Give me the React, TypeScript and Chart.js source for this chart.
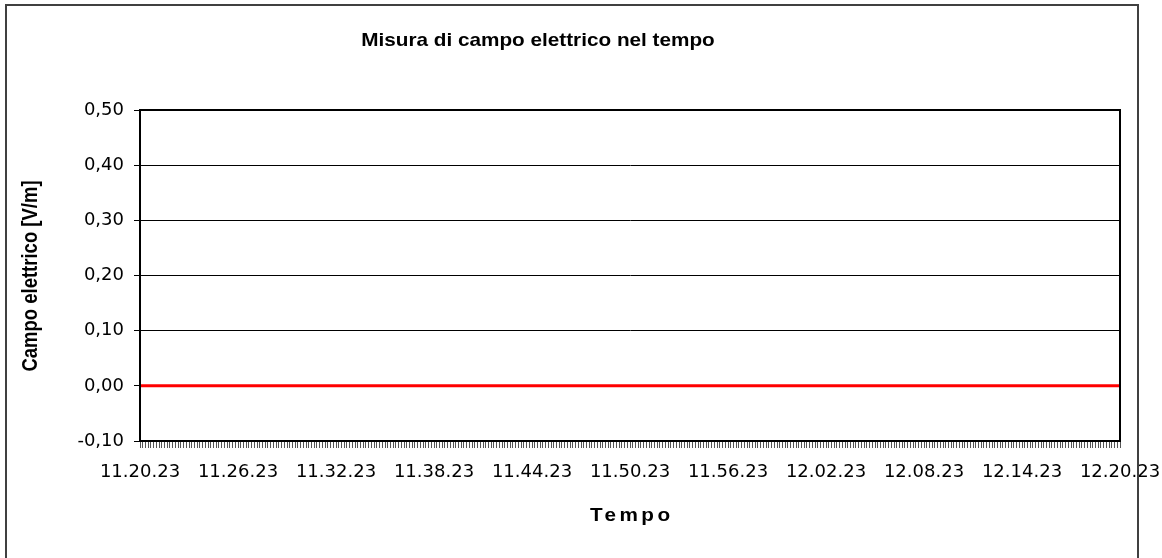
import React, { useEffect, useRef } from 'react';
import { Chart, registerables } from 'chart.js';

Chart.register(...registerables);

const chartTitle = 'Misura di campo elettrico nel tempo';
const xAxisTitle = 'Tempo';
const yAxisTitle = 'Campo elettrico [V/m]';

// Time axis: one sample every 10 s, a label every 6 minutes
const timeTickLabels = [
  '11.20.23', '11.26.23', '11.32.23', '11.38.23', '11.44.23', '11.50.23',
  '11.56.23', '12.02.23', '12.08.23', '12.14.23', '12.20.23',
];
const samplesPerTickLabel = 36;
const startTime = [11, 20, 23];
const sampleIntervalSeconds = 10;

const yMin = -0.1;
const yMax = 0.5;
const yStep = 0.1;

// Electric field readings [V/m] (flat at zero for the whole hour)
const fieldValues: number[] = [
  0, 0, 0, 0, 0, 0, 0, 0, 0, 0, 0, 0, 0, 0, 0, 0, 0, 0, 0, 0, 0, 0, 0, 0, 0, 0, 0, 0, 0, 0, 0, 0, 0, 0, 0, 0,
  0, 0, 0, 0, 0, 0, 0, 0, 0, 0, 0, 0, 0, 0, 0, 0, 0, 0, 0, 0, 0, 0, 0, 0, 0, 0, 0, 0, 0, 0, 0, 0, 0, 0, 0, 0,
  0, 0, 0, 0, 0, 0, 0, 0, 0, 0, 0, 0, 0, 0, 0, 0, 0, 0, 0, 0, 0, 0, 0, 0, 0, 0, 0, 0, 0, 0, 0, 0, 0, 0, 0, 0,
  0, 0, 0, 0, 0, 0, 0, 0, 0, 0, 0, 0, 0, 0, 0, 0, 0, 0, 0, 0, 0, 0, 0, 0, 0, 0, 0, 0, 0, 0, 0, 0, 0, 0, 0, 0,
  0, 0, 0, 0, 0, 0, 0, 0, 0, 0, 0, 0, 0, 0, 0, 0, 0, 0, 0, 0, 0, 0, 0, 0, 0, 0, 0, 0, 0, 0, 0, 0, 0, 0, 0, 0,
  0, 0, 0, 0, 0, 0, 0, 0, 0, 0, 0, 0, 0, 0, 0, 0, 0, 0, 0, 0, 0, 0, 0, 0, 0, 0, 0, 0, 0, 0, 0, 0, 0, 0, 0, 0,
  0, 0, 0, 0, 0, 0, 0, 0, 0, 0, 0, 0, 0, 0, 0, 0, 0, 0, 0, 0, 0, 0, 0, 0, 0, 0, 0, 0, 0, 0, 0, 0, 0, 0, 0, 0,
  0, 0, 0, 0, 0, 0, 0, 0, 0, 0, 0, 0, 0, 0, 0, 0, 0, 0, 0, 0, 0, 0, 0, 0, 0, 0, 0, 0, 0, 0, 0, 0, 0, 0, 0, 0,
  0, 0, 0, 0, 0, 0, 0, 0, 0, 0, 0, 0, 0, 0, 0, 0, 0, 0, 0, 0, 0, 0, 0, 0, 0, 0, 0, 0, 0, 0, 0, 0, 0, 0, 0, 0,
  0, 0, 0, 0, 0, 0, 0, 0, 0, 0, 0, 0, 0, 0, 0, 0, 0, 0, 0, 0, 0, 0, 0, 0, 0, 0, 0, 0, 0, 0, 0, 0, 0, 0, 0, 0,
  0,
];

const pad = (n: number) => (n < 10 ? '0' + n : String(n));
const sampleTimes: string[] = fieldValues.map((_, i) => {
  const t = startTime[0] * 3600 + startTime[1] * 60 + startTime[2] + i * sampleIntervalSeconds;
  return `${pad(Math.floor(t / 3600))}.${pad(Math.floor((t % 3600) / 60))}.${pad(t % 60)}`;
});

const W = 1162;
const H = 558;

function drawStretched(
  ctx: CanvasRenderingContext2D,
  text: string,
  x: number,
  y: number,
  font: string,
  sx: number,
  spacing = 0,
) {
  ctx.save();
  ctx.translate(x, y);
  ctx.scale(sx, 1);
  ctx.font = font;
  (ctx as any).letterSpacing = spacing + 'px';
  ctx.textAlign = 'center';
  ctx.textBaseline = 'alphabetic';
  ctx.fillText(text, spacing / 2, 0);
  ctx.restore();
}

const decorPlugin = {
  id: 'decor',
  afterDraw(chart: any) {
    const ctx: CanvasRenderingContext2D = chart.ctx;
    const a = chart.chartArea;
    ctx.save();
    // plot area frame
    ctx.strokeStyle = '#000';
    ctx.lineWidth = 2;
    ctx.strokeRect(a.left, a.top, a.right - a.left, a.bottom - a.top);
    // outer chart border
    ctx.strokeStyle = '#404040';
    ctx.lineWidth = 2;
    ctx.strokeRect(6, 5, 1132, 700);
    ctx.fillStyle = '#000';
    drawStretched(ctx, chartTitle, 538, 46, 'bold 18.5px "Liberation Sans", Arial, sans-serif', 1.12);
    drawStretched(ctx, xAxisTitle, 630, 521, 'bold 18px "Liberation Sans", Arial, sans-serif', 1.15, 3);
    // y axis title
    ctx.save();
    ctx.translate(31, 276);
    ctx.rotate(-Math.PI / 2);
    ctx.scale(1, 1.15);
    ctx.font = 'bold 18.5px "Liberation Sans", Arial, sans-serif';
    ctx.textAlign = 'center';
    ctx.textBaseline = 'middle';
    ctx.fillText(yAxisTitle, 0, 0);
    ctx.restore();
    ctx.restore();
  },
};

export default function App() {
  const ref = useRef<HTMLCanvasElement | null>(null);

  useEffect(() => {
    if (!ref.current) return;
    const chart = new Chart(ref.current, {
      type: 'line',
      data: {
        labels: sampleTimes,
        datasets: [
          {
            label: 'Campo elettrico',
            data: fieldValues,
            borderColor: '#ff0000',
            backgroundColor: '#ff0000',
            borderWidth: 3,
            pointRadius: 0,
            tension: 0,
          },
        ],
      },
      options: {
        animation: false,
        responsive: false,
        devicePixelRatio: 1,
        layout: { padding: { top: 110, right: 42, left: 0, bottom: 0 } },
        plugins: {
          legend: { display: false },
          title: { display: false },
          tooltip: { enabled: false },
        },
        scales: {
          x: {
            type: 'category',
            offset: false,
            afterFit: (s: any) => {
              s.height = 117;
              s.paddingLeft = 0;
              s.paddingRight = 0;
            },
            grid: {
              display: true,
              drawOnChartArea: false,
              drawTicks: true,
              tickLength: 7,
              color: '#555555',
              lineWidth: 1,
            },
            border: { display: true, color: '#000', width: 2 },
            ticks: {
              autoSkip: false,
              maxRotation: 0,
              minRotation: 0,
              padding: 14,
              color: '#000',
              font: { family: '"DejaVu Sans", sans-serif', size: 18 },
              callback: (_v: any, i: number) =>
                i % samplesPerTickLabel === 0 ? timeTickLabels[i / samplesPerTickLabel] : '',
            },
          },
          y: {
            min: yMin,
            max: yMax,
            afterFit: (s: any) => {
              s.width = 140;
              s.paddingTop = 0;
              s.paddingBottom = 0;
            },
            grid: {
              display: true,
              drawOnChartArea: true,
              drawTicks: true,
              tickLength: 6,
              color: '#000',
              lineWidth: 1,
            },
            border: { display: true, color: '#000', width: 2 },
            ticks: {
              stepSize: yStep,
              padding: 10,
              color: '#000',
              font: { family: '"DejaVu Sans", sans-serif', size: 18 },
              callback: (v: any) => (Math.round(Number(v) * 100) / 100 + 0).toFixed(2).replace('.', ','),
            },
          },
        },
      },
      plugins: [decorPlugin],
    });
    return () => chart.destroy();
  }, []);

  return (
    <div style={{ position: 'absolute', left: 0, top: 0, width: W, height: H, background: '#fff' }}>
      <canvas ref={ref} width={W} height={H} style={{ display: 'block', width: W, height: H }} />
    </div>
  );
}
